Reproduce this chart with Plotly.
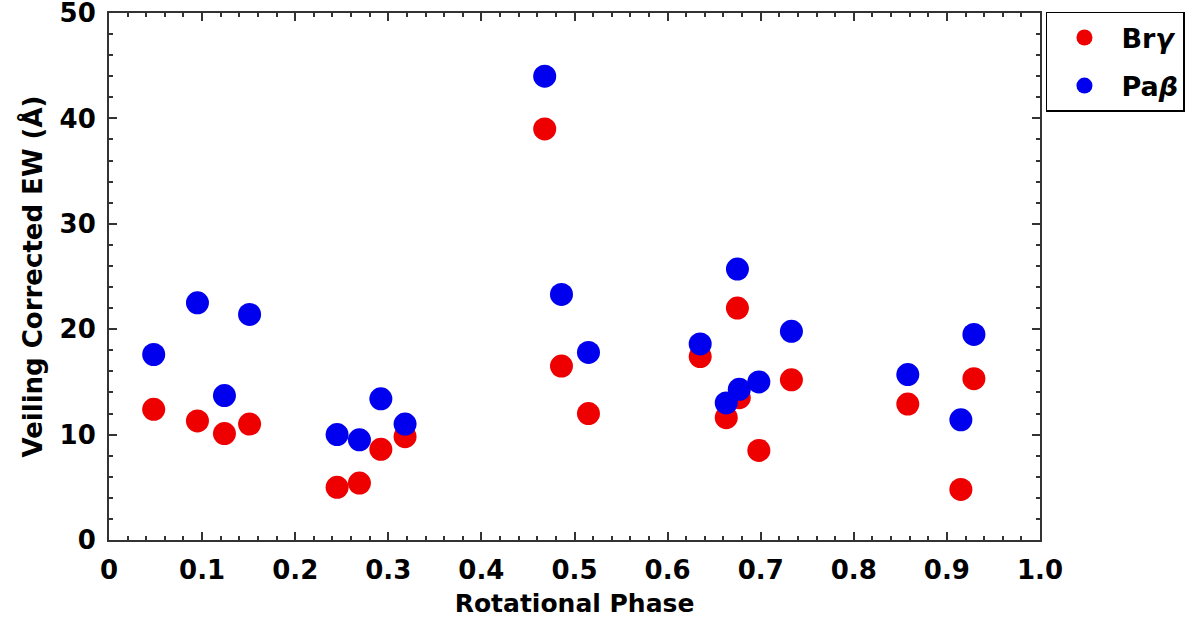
import plotly.graph_objects as go

# Rotational phase of each observation
phase = [0.048, 0.095, 0.124, 0.151, 0.245, 0.269, 0.292, 0.318, 0.468, 0.486,
         0.515, 0.635, 0.663, 0.675, 0.677, 0.698, 0.733, 0.858, 0.915, 0.929]
# Veiling corrected equivalent widths (Angstrom)
br_gamma = [12.4, 11.3, 10.1, 11.0, 5.0, 5.4, 8.6, 9.8, 39.0, 16.5,
            12.0, 17.4, 11.6, 22.0, 13.5, 8.5, 15.2, 12.9, 4.8, 15.3]
pa_beta = [17.6, 22.5, 13.7, 21.4, 10.0, 9.5, 13.4, 11.0, 44.0, 23.3,
           17.8, 18.6, 13.0, 25.7, 14.3, 15.0, 19.8, 15.7, 11.4, 19.5]

x_tickvals = [0, 0.1, 0.2, 0.3, 0.4, 0.5, 0.6, 0.7, 0.8, 0.9, 1.0]
x_ticktext = ["0", "0.1", "0.2", "0.3", "0.4", "0.5", "0.6", "0.7", "0.8", "0.9", "1.0"]
y_tickvals = [0, 10, 20, 30, 40, 50]

RED = "rgb(238,0,0)"
BLUE = "rgb(0,0,238)"
AX = "#333333"
FONT = "DejaVu Sans"

fig = go.Figure()
fig.add_trace(go.Scatter(x=phase, y=br_gamma, mode="markers", name="Br<i>γ</i>",
                         legendgroup="br",
                         marker=dict(color=RED, size=23, line=dict(width=0))))
fig.add_trace(go.Scatter(x=phase, y=pa_beta, mode="markers", name="Pa<i>β</i>",
                         legendgroup="pa",
                         marker=dict(color=BLUE, size=23, line=dict(width=0))))

axis_common = dict(
    showline=True, linecolor=AX, linewidth=2, mirror="ticks",
    ticks="inside", ticklen=8, tickwidth=2, tickcolor=AX,
    showgrid=False, zeroline=False, automargin=False,
    ticklabeloverflow="allow",
    tickfont=dict(family=FONT, size=26, color="black", weight="bold"),
)

fig.update_xaxes(
    range=[0, 1], tickvals=x_tickvals, ticktext=x_ticktext,
    minor=dict(ticks="inside", ticklen=4, tickwidth=1.5, tickcolor=AX, dtick=0.02, showgrid=False),
    title=dict(text="Rotational Phase", standoff=12,
               font=dict(family=FONT, size=25, color="black", weight="bold")),
    ticklabelstandoff=6,
    **axis_common,
)
fig.update_yaxes(
    range=[0, 50], tickvals=y_tickvals,
    minor=dict(ticks="inside", ticklen=4, tickwidth=1.5, tickcolor=AX, dtick=2, showgrid=False),
    title=dict(text="Veiling Corrected EW (Å)", standoff=10,
               font=dict(family=FONT, size=26, color="black", weight="bold")),
    ticklabelstandoff=6,
    **axis_common,
)

fig.update_layout(
    width=1200, height=618,
    margin=dict(l=109, r=160, t=13, b=78),
    paper_bgcolor="white", plot_bgcolor="white",
    legend=dict(x=1.0064, y=1.002, xanchor="left", yanchor="top",
                bordercolor="black", borderwidth=1.5, bgcolor="white",
                font=dict(family=FONT, size=27, color="black", weight="bold"),
                traceorder="grouped", tracegroupgap=10, itemwidth=64),
    showlegend=True,
)

fig.write_html("out.html")
